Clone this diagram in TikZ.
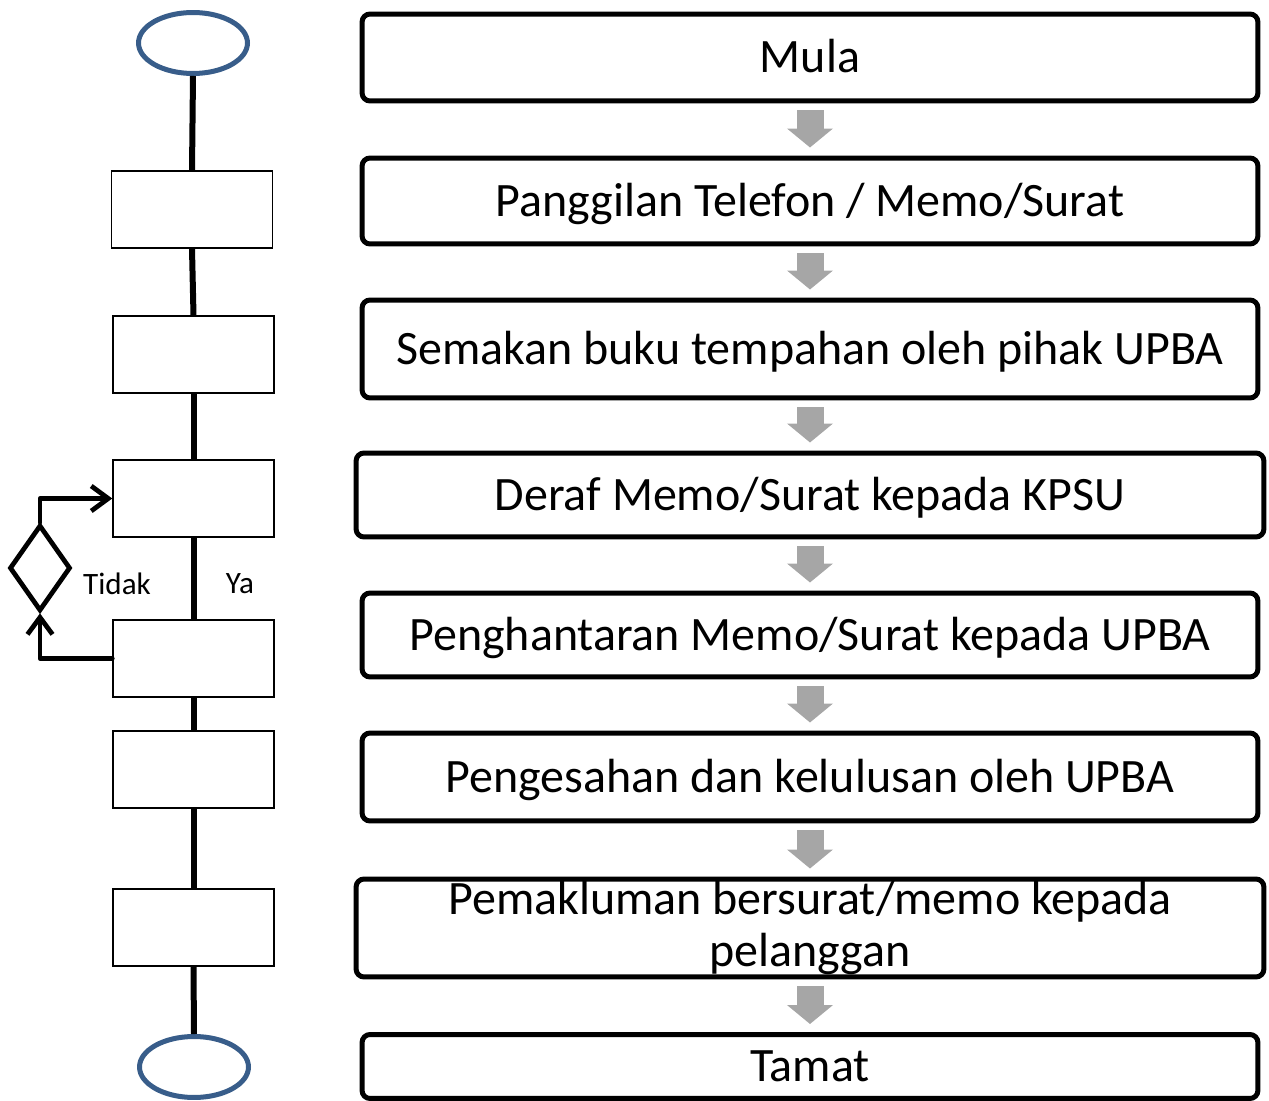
\documentclass[tikz,border=0pt]{standalone}
\usepackage{fontspec}
\setmainfont{Carlito}
\usetikzlibrary{shapes.geometric,arrows.meta}
\definecolor{ovalblue}{RGB}{56,93,138}
\definecolor{arrowgray}{RGB}{166,166,166}

\begin{document}
\begin{tikzpicture}[x=0.02cm, y=-0.02cm,
    stepbox/.style={draw, line width=0.1cm, rounded corners=0.16cm, minimum width=17.92cm,
        inner sep=0pt, align=center, text height=24.7pt, text depth=7.2pt,
        font=\fontsize{27.3}{29.5}\selectfont},
    widebox/.style={stepbox, minimum width=18.16cm},
    blank/.style={draw, line width=0.03cm, fill=white, minimum width=3.22cm, minimum height=1.54cm, inner sep=0pt},
    oval/.style={ellipse, draw=ovalblue, line width=0.1cm, minimum width=2.18cm, minimum height=1.22cm, inner sep=0pt},
    grayarr/.style={arrowgray, line width=0.54cm, shorten <=0.14cm, shorten >=0.16cm,
        -{Triangle[width=0.9cm,length=0.38cm]}},
    spine/.style={line width=0.12cm},
    loopline/.style={line width=0.095cm, line cap=round, line join=round,
        -{Straight Barb[length=0.34cm,width=0.5cm]}}]
    \useasboundingbox (0,0) rectangle (1269,1101);

    % Steps on the right
    \node[stepbox, minimum height=1.74cm] (mula) at (810,57.5) {Mula};
    \node[stepbox, minimum height=1.72cm] (call) at (810,201) {Panggilan Telefon / Memo/Surat};
    \node[stepbox, minimum height=1.96cm] (check) at (810,349) {Semakan buku tempahan oleh pihak UPBA};
    \node[widebox, minimum height=1.68cm] (draft) at (810,495) {Deraf Memo/Surat kepada KPSU};
    \node[stepbox, minimum height=1.68cm] (send) at (810,635) {Penghantaran Memo/Surat kepada UPBA};
    \node[stepbox, minimum height=1.76cm] (approve) at (810,777) {Pengesahan dan kelulusan oleh UPBA};
    \node[widebox, minimum height=1.96cm, text height={}, text depth={}] (notify) at (810,928)
        {Pemakluman bersurat/memo kepada\\pelanggan};
    \node[stepbox, minimum height=1.28cm] (tamat) at (810,1066.5) {Tamat};

    % Gray arrows between the steps
    \foreach \a/\b in {mula/call, call/check, check/draft, draft/send, send/approve, approve/notify, notify/tamat}
        \draw[grayarr] (\a.south) -- (\b.north);

    % Flow chart on the left
    \node[oval] (start) at (193,43) {};
    \node[blank] (r1) at (192,209.5) {};
    \node[blank] (r2) at (193.5,354.5) {};
    \node[blank] (r3) at (193.5,498.5) {};
    \node[blank] (r4) at (193.5,658.5) {};
    \node[blank] (r5) at (193.5,769.5) {};
    \node[blank] (r6) at (193.5,927.5) {};
    \node[oval] (end) at (194,1067) {};
    \foreach \a/\b in {start/r1, r1/r2, r2/r3, r3/r4, r4/r5, r5/r6, r6/end}
        \draw[spine] (\a.south) -- (\b.north);

    % Decision and loop back
    \node[diamond, draw, line width=0.095cm, minimum width=1.22cm, minimum height=1.72cm, inner sep=0pt] (dec) at (40,568) {};
    \draw[loopline] (dec.north) |- (r3.west);
    \draw[loopline] (r4.west) -| (dec.south);

    % Labels
    \node[font=\fontsize{17.7}{20}\selectfont] (no) at (117,584) {Tidak};
    \node[font=\fontsize{17.7}{20}\selectfont] (yes) at (240,584) {Ya};
\end{tikzpicture}
\end{document}
